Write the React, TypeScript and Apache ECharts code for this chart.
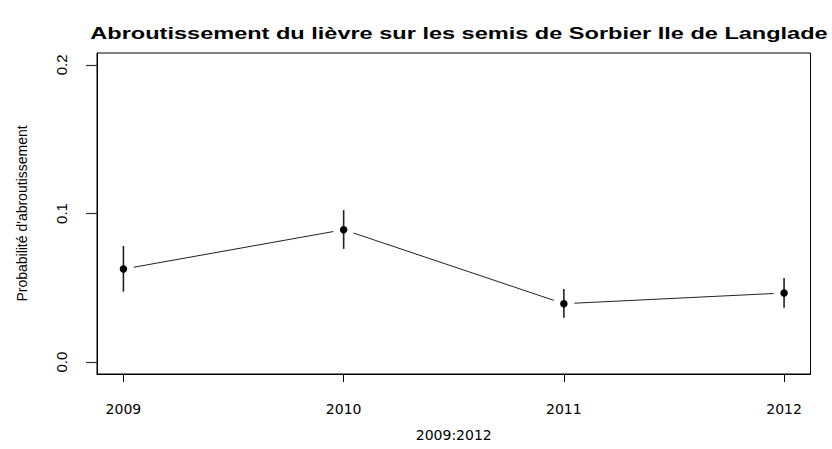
import React, { useEffect, useRef } from "react";
import * as echarts from "echarts";

const years = [2009, 2010, 2011, 2012];
const prob = [0.0626, 0.0891, 0.0393, 0.0465];
const lower = [0.0474, 0.0762, 0.0298, 0.0365];
const upper = [0.0782, 0.1023, 0.0492, 0.0566];
const xTicks = [2009, 2010, 2011, 2012];
const yTicks = [0, 0.1, 0.2];

const titleText = "Abroutissement du lièvre sur les semis de Sorbier Ile de Langlade";
const xName = "2009:2012";
const yName = "Probabilité d'abroutissement";

export default function App() {
  const ref = useRef<HTMLDivElement>(null);
  useEffect(() => {
    if (!ref.current) return;
    const chart = echarts.init(ref.current, null, { renderer: "svg" });
    const pts = years.map((y, i) => [y, prob[i]]);
    const segs = years.slice(0, -1).map((y, i) => [y, prob[i], years[i + 1], prob[i + 1]]);
    const bars = years.map((y, i) => [y, lower[i], upper[i]]);
    const font = "DejaVu Sans";
    const lib = "Liberation Sans";
    chart.setOption({
      animation: false,
      backgroundColor: "#fff",
      grid: { left: 97, top: 53, right: 21.5, bottom: 75, show: true, borderColor: "#000", borderWidth: 1 },
      graphic: [
        {
          type: "text", x: 459, y: 33, scaleX: 1.385,
          style: { text: titleText, textAlign: "center", textVerticalAlign: "middle", font: `bold 17px "${lib}"`, fill: "#000" },
        },
      ],
      xAxis: {
        type: "value", min: 2008.88, max: 2012.12,
        name: xName, nameLocation: "middle", nameGap: 54,
        nameTextStyle: { fontFamily: font, fontSize: 14, color: "#000" },
        axisLine: { show: true, onZero: false, lineStyle: { color: "#000", width: 1 } },
        splitLine: { show: false },
        axisTick: { show: true, length: 8, customValues: xTicks, lineStyle: { color: "#000" } },
        axisLabel: { customValues: xTicks, fontFamily: font, fontSize: 14, color: "#000", margin: 28, formatter: (v: number) => String(v) },
      },
      yAxis: {
        type: "value", min: -0.008, max: 0.208,
        name: yName, nameLocation: "middle", nameRotate: 90, nameGap: 68,
        nameTextStyle: { fontFamily: lib, fontSize: 14, color: "#000" },
        axisLine: { show: true, onZero: false, lineStyle: { color: "#000", width: 1 } },
        splitLine: { show: false },
        axisTick: { show: true, length: 11, customValues: yTicks, lineStyle: { color: "#333", width: 1.2 } },
        axisLabel: { customValues: yTicks, rotate: 90, fontFamily: lib, fontSize: 15, color: "#000", margin: 28, formatter: (v: number) => v.toFixed(1) },
      },
      series: [
        {
          type: "custom", data: segs, silent: true,
          renderItem: (params: any, api: any) => {
            const p1 = api.coord([api.value(0), api.value(1)]);
            const p2 = api.coord([api.value(2), api.value(3)]);
            const dx = p2[0] - p1[0];
            const dy = p2[1] - p1[1];
            const len = Math.sqrt(dx * dx + dy * dy);
            const g = 10.5;
            return {
              type: "line",
              shape: { x1: p1[0] + (dx / len) * g, y1: p1[1] + (dy / len) * g, x2: p2[0] - (dx / len) * g, y2: p2[1] - (dy / len) * g },
              style: { stroke: "#222", lineWidth: 1 },
            };
          },
        },
        {
          type: "custom", data: bars, silent: true,
          renderItem: (params: any, api: any) => {
            const a = api.coord([api.value(0), api.value(1)]);
            const b = api.coord([api.value(0), api.value(2)]);
            return { type: "line", shape: { x1: a[0], y1: a[1], x2: b[0], y2: b[1] }, style: { stroke: "#222", lineWidth: 1.6 } };
          },
        },
        { type: "scatter", data: pts, symbol: "circle", symbolSize: 7.5, itemStyle: { color: "#000", opacity: 1 }, silent: true },
      ],
    });
    return () => chart.dispose();
  }, []);
  return <div ref={ref} style={{ position: "absolute", left: 0, top: 0, width: 832, height: 449 }} />;
}
